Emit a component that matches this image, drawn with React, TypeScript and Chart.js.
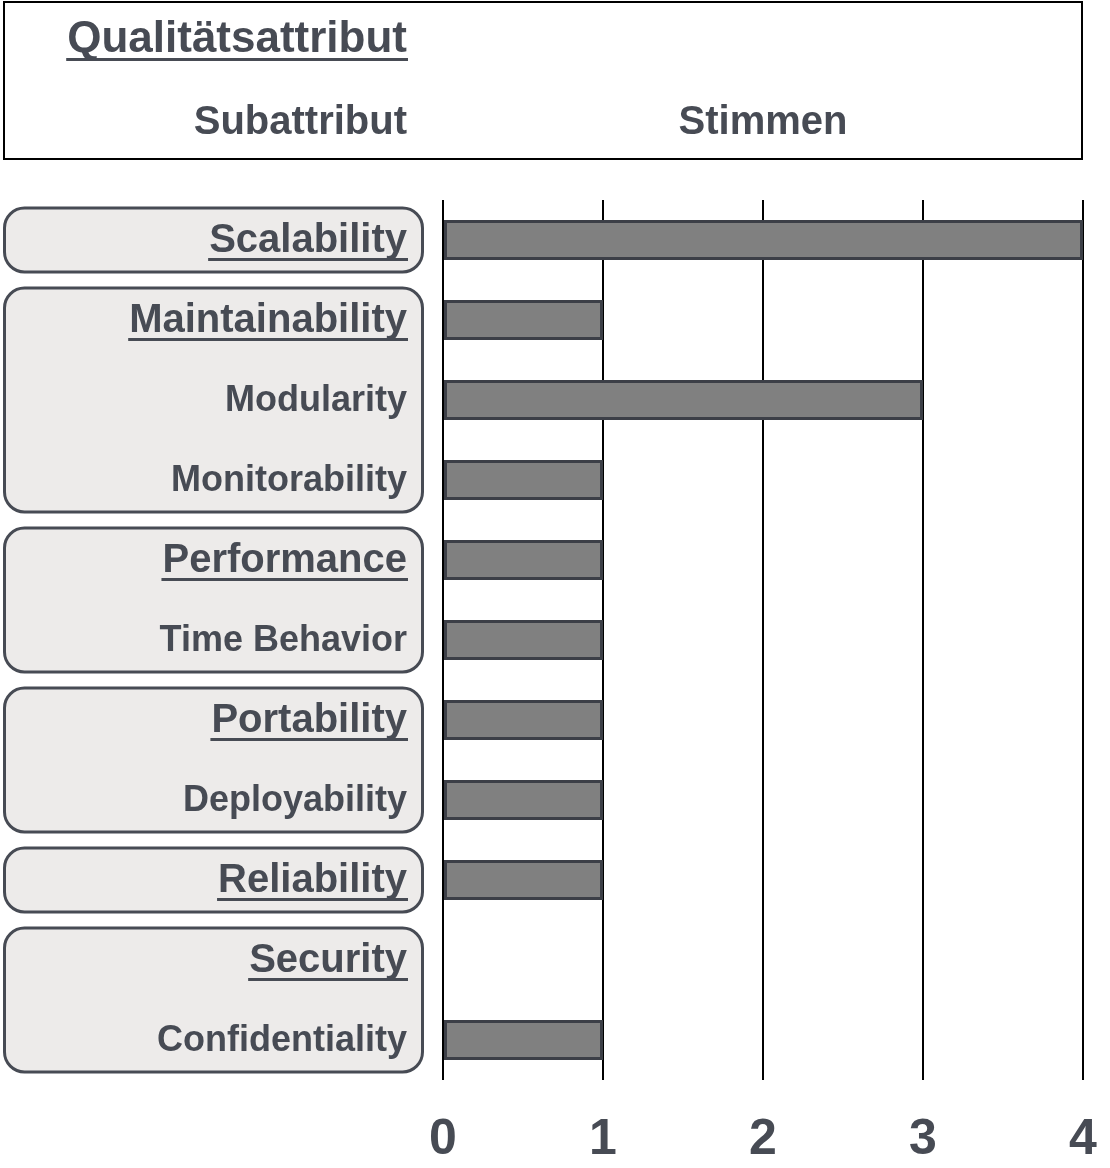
import React, { useEffect, useRef } from "react";
import { Chart, registerables } from "chart.js";

Chart.register(...registerables);

const labels = [
  "Scalability",
  "Maintainability",
  "Modularity",
  "Monitorability",
  "Performance",
  "Time Behavior",
  "Portability",
  "Deployability",
  "Reliability",
  "Security",
  "Confidentiality",
];
const votes = [4, 1, 3, 1, 1, 1, 1, 1, 1, 0, 1];
const isAttribute = [true, true, false, false, true, false, true, false, true, true, false];
const xTickValues = [0, 1, 2, 3, 4];
const headerAttribute = "Qualitätsattribut";
const headerSub = "Subattribut";
const headerVotes = "Stimmen";

const FONT = "'Liberation Sans', Arial, Helvetica, sans-serif";
const TEXT = "#474b54";
const ATTR_SIZE = 40;
const SUB_SIZE = 36;
const LABEL_RIGHT = 407;

function roundRect(ctx: CanvasRenderingContext2D, x: number, y: number, w: number, h: number, r: number) {
  ctx.beginPath();
  ctx.moveTo(x + r, y);
  ctx.lineTo(x + w - r, y);
  ctx.arcTo(x + w, y, x + w, y + r, r);
  ctx.lineTo(x + w, y + h - r);
  ctx.arcTo(x + w, y + h, x + w - r, y + h, r);
  ctx.lineTo(x + r, y + h);
  ctx.arcTo(x, y + h, x, y + h - r, r);
  ctx.lineTo(x, y + r);
  ctx.arcTo(x, y, x + r, y, r);
  ctx.closePath();
}

const decorPlugin = {
  id: "decor",
  beforeDraw(chart: any) {
    const ctx: CanvasRenderingContext2D = chart.ctx;
    const y = chart.scales.y;
    const x = chart.scales.x;
    ctx.save();
    // header box
    ctx.strokeStyle = "#000";
    ctx.lineWidth = 2;
    ctx.strokeRect(4, 2, 1078, 157);
    ctx.fillStyle = TEXT;
    ctx.textAlign = "right";
    ctx.textBaseline = "alphabetic";
    ctx.font = `bold 44px ${FONT}`;
    ctx.fillText(headerAttribute, LABEL_RIGHT, 52);
    const hw = ctx.measureText(headerAttribute).width;
    ctx.fillRect(LABEL_RIGHT - hw - 1, 58, hw + 2, 3);
    ctx.font = `bold 40px ${FONT}`;
    ctx.fillText(headerSub, LABEL_RIGHT, 134);
    ctx.textAlign = "center";
    ctx.fillText(headerVotes, x.getPixelForValue(2), 134);

    // group boxes
    const groups: [number, number][] = [];
    for (let i = 0; i < labels.length; i++) {
      if (isAttribute[i]) groups.push([i, i]);
      else groups[groups.length - 1][1] = i;
    }
    const half = (y.getPixelForTick(1) - y.getPixelForTick(0)) * 0.4;
    groups.forEach(([s, e]) => {
      const top = y.getPixelForTick(s) - half;
      const bottom = y.getPixelForTick(e) + half;
      roundRect(ctx, 4.5, top, 418, bottom - top, 20);
      ctx.fillStyle = "#edebea";
      ctx.fill();
      ctx.lineWidth = 3;
      ctx.strokeStyle = TEXT;
      ctx.stroke();
    });
    ctx.restore();
  },
  afterDraw(chart: any) {
    const ctx: CanvasRenderingContext2D = chart.ctx;
    const y = chart.scales.y;
    ctx.save();
    ctx.fillStyle = TEXT;
    ctx.font = `bold ${ATTR_SIZE}px ${FONT}`;
    labels.forEach((l, i) => {
      if (!isAttribute[i]) return;
      const w = ctx.measureText(l).width;
      const py = y.getPixelForTick(i);
      ctx.fillRect(LABEL_RIGHT - w - 1, py + 18, w + 2, 3);
    });
    ctx.restore();
  },
};

export default function App() {
  const ref = useRef<HTMLCanvasElement>(null);
  useEffect(() => {
    if (!ref.current) return;
    const chart = new Chart(ref.current, {
      type: "bar",
      data: {
        labels,
        datasets: [
          {
            data: votes,
            backgroundColor: "#808080",
            borderColor: "#3c3f47",
            borderWidth: (c: any) => (c.raw === 0 ? 0 : 3),
            borderSkipped: false,
            barPercentage: 0.5,
            categoryPercentage: 1,
          },
        ],
      },
      options: {
        indexAxis: "y",
        responsive: false,
        animation: false,
        devicePixelRatio: 1,
        layout: { padding: { top: 200, right: 27, left: 0, bottom: 0 } },
        plugins: { legend: { display: false }, tooltip: { enabled: false } },
        scales: {
          x: {
            min: 0,
            max: 4,
            afterBuildTicks: (s: any) => {
              s.ticks = xTickValues.map((v) => ({ value: v }));
            },
            grid: { color: "#000", lineWidth: 2, drawTicks: false },
            border: { display: false },
            ticks: {
              padding: 30,
              color: TEXT,
              maxRotation: 0,
              font: { size: 50, weight: "bold", family: FONT },
            },
            afterFit: (s: any) => {
              s.height = 88;
              s.paddingLeft = 0;
              s.paddingRight = 0;
            },
          },
          y: {
            grid: { display: false, drawTicks: false },
            border: { display: false },
            ticks: {
              padding: 443 - LABEL_RIGHT,
              color: TEXT,
              autoSkip: false,
              labelOffset: 1,
              font: (c: any) => ({
                size: isAttribute[c.index] ? ATTR_SIZE : SUB_SIZE,
                weight: "bold",
                family: FONT,
              }),
            },
            afterFit: (s: any) => {
              s.width = 443;
              s.paddingTop = 0;
              s.paddingBottom = 0;
            },
          },
        },
      },
      plugins: [decorPlugin],
    } as any);
    return () => chart.destroy();
  }, []);
  return (
    <div style={{ position: "absolute", left: 0, top: 0, width: 1110, height: 1168, background: "#fff" }}>
      <canvas ref={ref} width={1110} height={1168} />
    </div>
  );
}
